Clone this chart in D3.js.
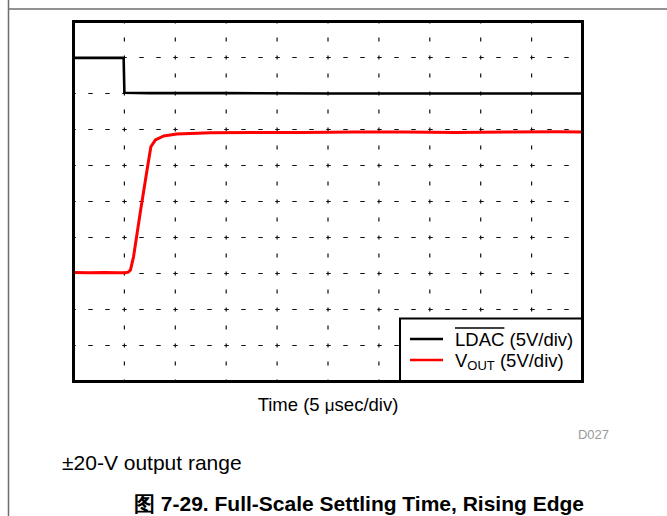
<!DOCTYPE html>
<html>
<head>
<meta charset="utf-8">
<script src="https://cdn.jsdelivr.net/npm/d3@7"></script>
<style>
  body { margin: 0; background: #fff; }
  svg { display: block; font-family: "Liberation Sans", Arial, sans-serif; }
</style>
</head>
<body>
<div class="canvas"></div>
<script>
// values read in divisions (10 x 10 scope grid)
const gridDivs = d3.range(1, 10);

const ldacTime = [0, 0.5, 0.985, 1.0, 1.5, 3, 5, 7, 10];
const ldacLevel = [8.99, 8.99, 8.99, 8.02, 8.01, 8.01, 8.0, 8.0, 8.0];

const voutTime = [0, 0.3, 0.6, 0.9, 1.02, 1.08, 1.12, 1.18, 1.31, 1.445, 1.52, 1.61, 1.77, 2.03, 2.69, 3.5, 4.5, 5.5, 6.5, 7.5, 8.5, 9.5, 10];
const voutLevel = [3.03, 3.02, 3.03, 3.02, 3.02, 3.04, 3.1, 3.47, 4.68, 5.875, 6.52, 6.71, 6.82, 6.875, 6.91, 6.92, 6.92, 6.93, 6.93, 6.92, 6.93, 6.94, 6.93];

const legendNames = ["LDAC", "VOUT"];
const legendColors = ["#000", "#ff0000"];

const dims = { width: 667, height: 516 };
const plot = { left: 73.5, right: 582.5, top: 21.5, bottom: 381.5 };

const svg = d3
    .select(".canvas")
    .append("svg")
    .attr("width", dims.width)
    .attr("height", dims.height);

// page frame lines
svg.append("line")
    .attr("x1", 8.5).attr("x2", 8.5).attr("y1", 0).attr("y2", dims.height)
    .attr("stroke", "#6e6e6e").attr("stroke-width", 1.5);
svg.append("line")
    .attr("x1", 8).attr("x2", dims.width).attr("y1", 9).attr("y2", 9)
    .attr("stroke", "#6e6e6e").attr("stroke-width", 1.5);

const x = d3.scaleLinear().domain([0, 10]).range([plot.left, plot.right]);
const y = d3.scaleLinear().domain([0, 10]).range([plot.bottom, plot.top]);

svg.append("clipPath").attr("id", "clip")
    .append("rect")
    .attr("x", plot.left).attr("y", plot.top)
    .attr("width", plot.right - plot.left).attr("height", plot.bottom - plot.top);

const graph = svg.append("g");

// dashed grid
graph.selectAll(".hgrid")
    .data(gridDivs)
    .enter()
    .append("line")
    .attr("class", "hgrid")
    .attr("x1", plot.left).attr("x2", plot.right)
    .attr("y1", (d) => y(d)).attr("y2", (d) => y(d))
    .attr("stroke", "#111").attr("stroke-width", 1.2)
    .attr("stroke-dasharray", "4.5,12.5").attr("stroke-dashoffset", 2.25);

graph.selectAll(".vgrid")
    .data(gridDivs)
    .enter()
    .append("line")
    .attr("class", "vgrid")
    .attr("x1", (d) => x(d)).attr("x2", (d) => x(d))
    .attr("y1", plot.top).attr("y2", plot.bottom)
    .attr("stroke", "#111").attr("stroke-width", 1.2)
    .attr("stroke-dasharray", "4,14").attr("stroke-dashoffset", 2);

const line = d3.line().x((d) => x(d[0])).y((d) => y(d[1]));

graph.append("path")
    .datum(d3.zip(ldacTime, ldacLevel))
    .attr("clip-path", "url(#clip)")
    .attr("d", line)
    .attr("fill", "none")
    .attr("stroke", legendColors[0])
    .attr("stroke-width", 2.6);

graph.append("path")
    .datum(d3.zip(voutTime, voutLevel))
    .attr("clip-path", "url(#clip)")
    .attr("d", line)
    .attr("fill", "none")
    .attr("stroke", legendColors[1])
    .attr("stroke-width", 3)
    .attr("stroke-linejoin", "round");

// legend
const legend = svg.append("g");
legend.append("rect")
    .attr("x", 400).attr("y", 318.5)
    .attr("width", plot.right - 400).attr("height", plot.bottom - 318.5)
    .attr("fill", "#fff").attr("stroke", "#000").attr("stroke-width", 2);

const rows = [339, 360];
legend.selectAll(".key")
    .data(legendColors)
    .enter()
    .append("line")
    .attr("x1", 410).attr("x2", 443)
    .attr("y1", (d, i) => rows[i]).attr("y2", (d, i) => rows[i])
    .attr("stroke", (d) => d).attr("stroke-width", 2.5);

const t1 = legend.append("text")
    .attr("x", 455).attr("y", rows[0] + 6.5)
    .attr("font-size", 18.5);
const ldacSpan = t1.append("tspan").text(legendNames[0]);
t1.append("tspan").text(" (5V/div)");
const ldacW = ldacSpan.node().getComputedTextLength();
legend.append("line")
    .attr("x1", 455).attr("x2", 455 + ldacW)
    .attr("y1", rows[0] - 11).attr("y2", rows[0] - 11)
    .attr("stroke", "#000").attr("stroke-width", 1.5);

const t2 = legend.append("text")
    .attr("x", 455).attr("y", rows[1] + 6.5)
    .attr("font-size", 18.5);
t2.append("tspan").text("V");
t2.append("tspan").attr("font-size", 13).attr("dy", 3).text("OUT");
t2.append("tspan").attr("dy", -3).text(" (5V/div)");

// border on top
svg.append("rect")
    .attr("x", plot.left).attr("y", plot.top)
    .attr("width", plot.right - plot.left).attr("height", plot.bottom - plot.top)
    .attr("fill", "none").attr("stroke", "#000").attr("stroke-width", 3);

// texts
const timeLabel = svg.append("text")
    .attr("x", (plot.left + plot.right) / 2).attr("y", 411)
    .attr("text-anchor", "middle").attr("font-size", 18.5);
timeLabel.append("tspan").text("Time (5 ");
timeLabel.append("tspan").attr("font-size", 17).text("\u03bc");
timeLabel.append("tspan").text("sec/div)");

svg.append("text")
    .attr("x", 609).attr("y", 439)
    .attr("text-anchor", "end").attr("font-size", 13).attr("fill", "#999")
    .text("D027");

svg.append("text")
    .attr("x", 62).attr("y", 470)
    .attr("font-size", 21)
    .text("\u00b120-V output range");

svg.append("text")
    .attr("x", 359).attr("y", 511)
    .attr("text-anchor", "middle").attr("font-size", 21).attr("font-weight", "bold")
    .text("\u56fe 7-29. Full-Scale Settling Time, Rising Edge");
</script>
</body>
</html>
